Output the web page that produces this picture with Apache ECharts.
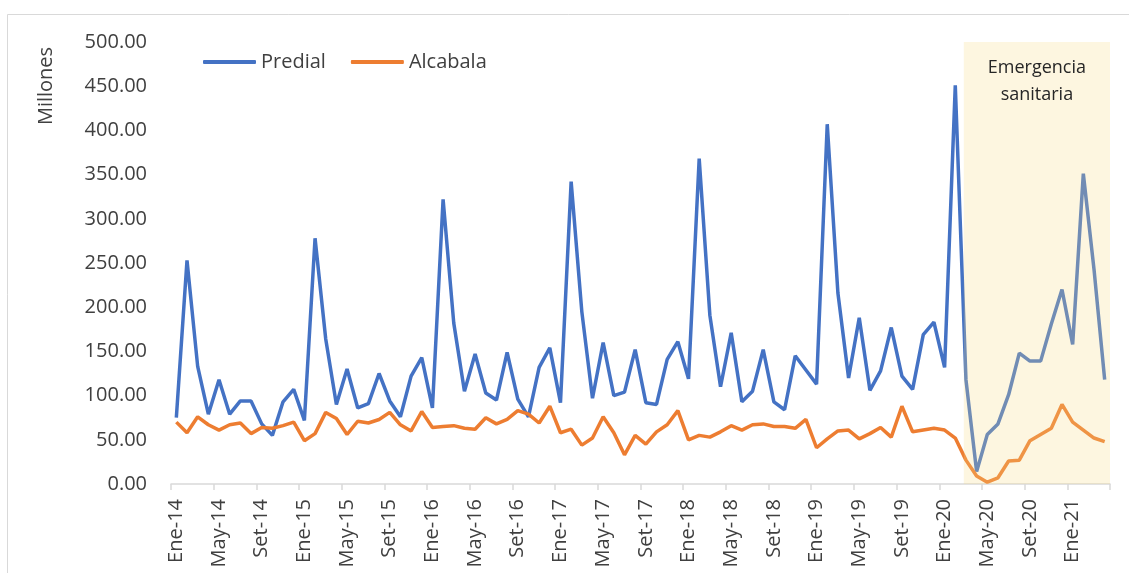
<!DOCTYPE html>
<html>
<head>
<meta charset="utf-8">
<script src="https://cdn.jsdelivr.net/npm/echarts@6/dist/echarts.min.js"></script>
<style>
html,body{margin:0;padding:0;background:#fff;}
#c{width:1129px;height:573px;}
</style>
</head>
<body>
<div id="c"></div>
<script>
const MONTHS = ['Ene','Feb','Mar','Abr','May','Jun','Jul','Ago','Set','Oct','Nov','Dic'];
const YEARS = ['14','15','16','17','18','19','20','21'];
const N_MONTHS = 88;
const categories = [];
for (let i = 0; i < N_MONTHS; i++) {
  categories.push(MONTHS[i % 12] + '-' + YEARS[Math.floor(i / 12)]);
}

const predial = [
  75, 253, 133, 79, 118, 79, 94, 94, 68, 55, 93, 107,
  72, 278, 164, 90, 130, 86, 91, 125, 94, 76, 122, 143,
  86, 322, 182, 105, 147, 103, 95, 149, 96, 76, 132, 154,
  92, 342, 195, 97, 160, 100, 104, 152, 92, 90, 141, 161,
  119, 368, 191, 110, 171, 93, 105, 152, 93, 84, 145, 129,
  113, 407, 216, 120, 188, 106, 128, 177, 122, 107, 169, 183,
  132, 451, 118, 14, 56, 68, 101, 148, 139, 139, 181, 220,
  158, 351, 243, 118
];

const alcabala = [
  70, 58, 76, 67, 61, 67, 69, 57, 64, 63, 66, 70,
  49, 57, 81, 74, 56, 71, 69, 73, 81, 67, 60, 82,
  64, 65, 66, 63, 62, 75, 68, 73, 83, 79, 69, 88,
  58, 62, 44, 52, 76, 58, 33, 55, 45, 59, 67, 83,
  50, 55, 53, 59, 66, 61, 67, 68, 65, 65, 63, 73,
  41, 51, 60, 61, 51, 57, 64, 53, 88, 59, 61, 63,
  61, 52, 27, 9, 2, 7, 26, 27, 49, 56, 63, 90,
  70, 61, 52, 48
];

// emergency period on a month-position scale (0 = start of Ene-14)
const emergencia = [74.3, 88];

const FONT = '"Open Sans", "Noto Sans", sans-serif';
const TEXT = '#404040';
const chart = echarts.init(document.getElementById('c'), null, {renderer: 'canvas'});
chart.setOption({
  animation: false,
  backgroundColor: '#ffffff',
  grid: {left: 171, right: 19, top: 42, bottom: 89, containLabel: false},
  legend: {
    left: 203, top: 52, padding: 0,
    icon: 'roundRect',
    itemWidth: 53, itemHeight: 4, itemGap: 25,
    textStyle: {fontFamily: FONT, fontSize: 20, color: TEXT},
    data: ['Predial', 'Alcabala']
  },
  graphic: [
    {type: 'rect', shape: {x: 7.5, y: 14.5, width: 1200, height: 700},
     style: {fill: 'none', stroke: '#d9d9d9', lineWidth: 1}, silent: true, z: -10},
    {type: 'text', x: 46, y: 86, rotation: Math.PI / 2,
     style: {text: 'Millones', fontFamily: FONT, fontSize: 20, fill: TEXT,
             textAlign: 'center', textVerticalAlign: 'middle'}}
  ],
  xAxis: [{
    type: 'category',
    data: categories,
    boundaryGap: true,
    axisLine: {show: true, lineStyle: {color: '#d9d9d9', width: 1.5}},
    axisTick: {show: true, interval: 3, length: 6, lineStyle: {color: '#d9d9d9', width: 1.5}},
    axisLabel: {interval: 3, rotate: 90, margin: 15, fontFamily: FONT, fontSize: 20, color: TEXT},
    splitLine: {show: false}
  }, {
    type: 'value', min: 0, max: N_MONTHS, show: false
  }],
  yAxis: {
    type: 'value', min: 0, max: 500, interval: 50,
    axisLine: {show: false}, axisTick: {show: false},
    splitLine: {show: false},
    axisLabel: {margin: 24, fontFamily: FONT, fontSize: 20, color: TEXT,
                formatter: v => v.toFixed(2)}
  },
  series: [
    {name: 'Predial', type: 'line', data: predial, showSymbol: false, symbol: 'none',
     lineStyle: {color: '#4472C4', width: 3.5}, itemStyle: {color: '#4472C4'}, z: 2},
    {name: 'Alcabala', type: 'line', data: alcabala, showSymbol: false, symbol: 'none',
     lineStyle: {color: '#ED7D31', width: 3.5}, itemStyle: {color: '#ED7D31'}, z: 2},
    {name: 'emergencia', type: 'line', xAxisIndex: 1, data: [], silent: true, z: 10,
     markArea: {
       silent: true, z: 10,
       itemStyle: {color: 'rgba(247,219,131,0.25)'},
       label: {show: true, position: 'insideTop', distance: 12,
               formatter: 'Emergencia\nsanitaria', fontFamily: FONT, fontSize: 18,
               lineHeight: 27, color: '#262626'},
       data: [[{xAxis: emergencia[0], yAxis: 500}, {xAxis: emergencia[1], yAxis: 0}]]
     }}
  ]
});
</script>
</body>
</html>
